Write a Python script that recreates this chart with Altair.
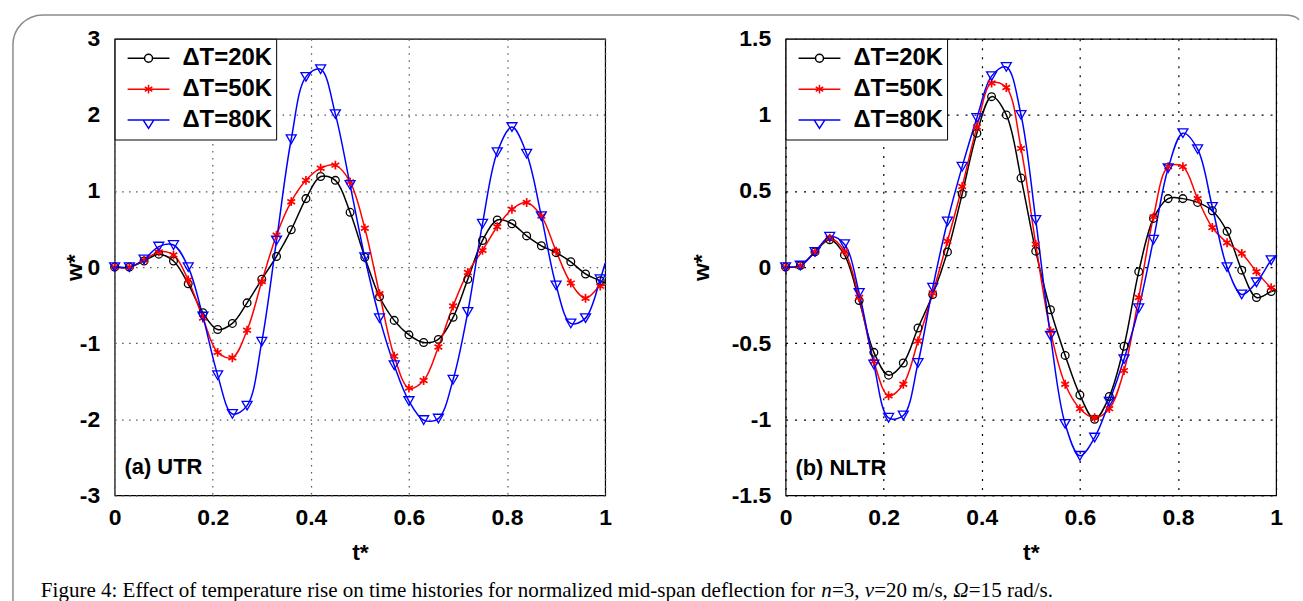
import altair as alt
import pandas as pd

# ---------------- data ----------------
T_MARK = [0.00, 0.03, 0.06, 0.09, 0.12, 0.15, 0.18, 0.21, 0.24, 0.27, 0.30, 0.33,
          0.36, 0.39, 0.42, 0.45, 0.48, 0.51, 0.54, 0.57, 0.60, 0.63, 0.66, 0.69,
          0.72, 0.75, 0.78, 0.81, 0.84, 0.87, 0.90, 0.93, 0.96, 0.99]
T_END = 1.0

SERIES = ["ΔT=20K", "ΔT=50K", "ΔT=80K"]
COLORS = ["#000000", "#ff0000", "#0000ff"]

# (a) UTR
UTR_20 = [0, 0, 0.08, 0.17, 0.08, -0.22, -0.60, -0.82, -0.74, -0.47, -0.16, 0.14,
          0.49, 0.90, 1.19, 1.14, 0.72, 0.13, -0.39, -0.70, -0.89, -0.99, -0.95, -0.66,
          -0.16, 0.35, 0.62, 0.57, 0.41, 0.28, 0.19, 0.07, -0.09, -0.18]
UTR_50 = [0, 0, 0.09, 0.20, 0.16, -0.17, -0.67, -1.12, -1.19, -0.83, -0.19, 0.42,
          0.86, 1.14, 1.30, 1.34, 1.12, 0.51, -0.35, -1.17, -1.59, -1.49, -1.05, -0.51,
          -0.07, 0.22, 0.53, 0.76, 0.85, 0.67, 0.21, -0.21, -0.41, -0.25]
UTR_80 = [0, 0, 0.10, 0.27, 0.29, 0.0, -0.65, -1.42, -1.93, -1.82, -0.98, 0.35,
          1.68, 2.50, 2.60, 2.01, 1.08, 0.13, -0.67, -1.29, -1.76, -2.01, -1.99, -1.48,
          -0.59, 0.57, 1.51, 1.84, 1.49, 0.67, -0.24, -0.74, -0.67, -0.16]
UTR_END = [-0.21, -0.24, 0.05]

# (b) NLTR
NLTR_20 = [0, 0.01, 0.10, 0.18, 0.08, -0.22, -0.56, -0.71, -0.63, -0.40, -0.18, 0.10,
           0.48, 0.88, 1.12, 1.00, 0.585, 0.105, -0.28, -0.58, -0.84, -1.00, -0.85, -0.52,
           -0.03, 0.32, 0.45, 0.45, 0.425, 0.37, 0.235, -0.02, -0.20, -0.16]
NLTR_50 = [0, 0.01, 0.10, 0.19, 0.105, -0.20, -0.62, -0.845, -0.77, -0.485, -0.17, 0.17,
           0.53, 0.92, 1.21, 1.18, 0.78, 0.15, -0.42, -0.77, -0.93, -0.99, -0.93, -0.68,
           -0.20, 0.33, 0.66, 0.66, 0.45, 0.26, 0.16, 0.09, -0.03, -0.135]
NLTR_80 = [0, 0.01, 0.10, 0.20, 0.15, -0.17, -0.64, -0.99, -0.975, -0.63, -0.135, 0.30,
           0.66, 0.98, 1.255, 1.315, 1.00, 0.31, -0.45, -1.03, -1.24, -1.12, -0.885, -0.605,
           -0.27, 0.18, 0.65, 0.88, 0.775, 0.395, 0.0, -0.18, -0.10, 0.045]
NLTR_END = [-0.15, -0.15, 0.075]

X_TICKS = [0, 0.2, 0.4, 0.6, 0.8, 1]
Y_TICKS_A = [-3, -2, -1, 0, 1, 2, 3]
Y_TICKS_B = [-1.5, -1, -0.5, 0, 0.5, 1, 1.5]
Y_DOM_A = [-3, 3]
Y_DOM_B = [-1.5, 1.5]

PANEL_LABELS = ["(a) UTR", "(b) NLTR"]
PANEL_LABEL_T = [0.02, 0.02]
PANEL_LABEL_W = [-2.63, -1.32]

# caption pieces (text, italic)
CAPTION_PARTS = [
    ("Figure 4: Effect of temperature rise on time histories for normalized "
     "mid-span deflection for ", False),
    ("n", True),
    ("=3, ", False),
    ("v", True),
    ("=20 m/s, ", False),
    ("Ω", True),
    ("=15 rad/s.", False),
]

# ---------------- styling ----------------
SANS = "Liberation Sans"
SERIF = "Liberation Serif"
CAP_SIZE = 21.1
# Times-compatible advance widths (1/1000 em) used to place the caption pieces
TIMES_W = {" ": 250, "a": 444, "c": 444, "d": 500, "e": 444, "f": 333, "g": 500,
           "h": 500, "i": 278, "l": 278, "m": 778, "n": 500, "o": 500, "p": 500,
           "r": 333, "s": 389, "t": 278, "u": 500, "z": 444, "F": 556, "E": 611,
           ":": 278, ",": 250, "-": 333, ".": 250, "/": 278, "=": 564, "v": 500}
TIMES_IT = {"n": 500, "v": 444, "Ω": 740}


def text_width(s, italic):
    tab = TIMES_IT if italic else TIMES_W
    return sum(tab.get(ch, 500) for ch in s) / 1000 * CAP_SIZE


ASTERISK = "M0,-1V1M-0.87,-0.5L0.87,0.5M-0.87,0.5L0.87,-0.5"
MARKERS = [("circle", 60, 1.3), (ASTERISK, 80, 1.7), ("triangle-down", 100, 1.3)]
LEGEND_PATHS = [
    "M-1,0H-0.19M0.19,0H1M0.19,0A0.19,0.19,0,1,1,-0.19,0A0.19,0.19,0,1,1,0.19,0",
    "M-1,0H1M0,-0.21V0.21M-0.18,-0.105L0.18,0.105M-0.18,0.105L0.18,-0.105",
    "M-1,0H1M-0.25,0L0,0.4L0.25,0",
]
FRAME_PATH = "M-102,565V6A30,30,0,0,1,-72,-24H1172Q1185,-24,1188,-19"


def long_df(vals_list, ends):
    rows = []
    for s, vals, end in zip(SERIES, vals_list, ends):
        for t, w in zip(T_MARK, vals):
            rows.append({"t": t, "w": w, "series": s, "marker": True})
        rows.append({"t": T_END, "w": end, "series": s, "marker": False})
    return pd.DataFrame(rows)


def panel(df, ydom, yticks, idx, grid_color, grid_dash, title_x, extra=()):
    x = alt.X("t:Q", scale=alt.Scale(domain=[0, 1], nice=False, zero=False),
              axis=alt.Axis(values=X_TICKS, title="t*", labelExpr="'' + datum.value",
                            grid=True, gridColor=grid_color, gridDash=grid_dash,
                            gridWidth=1.2, labelFlush=False, labelPadding=11,
                            titlePadding=12))
    y = alt.Y("w:Q", scale=alt.Scale(domain=ydom, nice=False, zero=False),
              axis=alt.Axis(values=yticks, title="w*", labelExpr="'' + datum.value",
                            grid=True, gridColor=grid_color, gridDash=grid_dash,
                            gridWidth=1.2, labelFlush=False, labelPadding=15,
                            titleX=title_x, titleY=229))
    base = alt.Chart(df)
    layers = []
    for s, col in zip(SERIES, COLORS):
        layers.append(
            base.transform_filter(alt.datum.series == s)
            .mark_line(interpolate="catmull-rom", strokeWidth=1.5, color=col)
            .encode(x=x, y=y)
        )
    for s, col, (shp, size, sw) in zip(SERIES, COLORS, MARKERS):
        layers.append(
            base.transform_filter((alt.datum.series == s) & alt.datum.marker)
            .mark_point(shape=shp, size=size, filled=False, strokeWidth=sw,
                        opacity=1, color=col)
            .encode(x=x, y=y)
        )
    leg = alt.Legend(title=None, orient="top-left", offset=0, padding=4,
                     strokeColor="black", fillColor="white",
                     labelFont=SANS, labelFontSize=24, labelFontWeight="bold",
                     labelColor="black", symbolSize=1764, symbolStrokeWidth=1.5,
                     symbolOffset=8, labelOffset=12, rowPadding=0, clipHeight=31,
                     labelExpr="datum.label + '  '")
    # legend carrier: the three first samples, drawn at a negligible size
    layers.append(
        base.transform_filter(alt.datum.t == 0)
        .mark_point(filled=False, size=1, strokeWidth=1.5, opacity=1)
        .encode(x=x, y=y,
                color=alt.Color("series:N", scale=alt.Scale(domain=SERIES, range=COLORS),
                                legend=leg),
                shape=alt.Shape("series:N",
                                scale=alt.Scale(domain=SERIES, range=LEGEND_PATHS),
                                legend=leg))
    )
    lab = pd.DataFrame({"t": [PANEL_LABEL_T[idx]], "w": [PANEL_LABEL_W[idx]],
                        "label": [PANEL_LABELS[idx]]})
    layers.append(
        alt.Chart(lab).mark_text(align="left", baseline="middle", font=SANS,
                                 fontSize=22, fontWeight="bold", color="black")
        .encode(x=x, y=y, text="label:N")
    )
    layers.extend(extra)
    return alt.layer(*layers).properties(width=492, height=458)


deco = pd.DataFrame({"k": [0]})
frame = alt.Chart(deco).mark_point(shape=FRAME_PATH, size=4, filled=False,
                                   color="#8c8c8c", strokeWidth=1.5, opacity=1).encode(
    x=alt.value(0), y=alt.value(0))

caption_layers = []
cx = -74
for txt, ital in CAPTION_PARTS:
    cdf = pd.DataFrame({"txt": [txt]})
    caption_layers.append(
        alt.Chart(cdf).mark_text(align="left", baseline="middle", font=SERIF,
                                 fontSize=CAP_SIZE, color="black",
                                 fontStyle="italic" if ital else "normal")
        .encode(x=alt.value(cx), y=alt.value(554), text="txt:N")
    )
    cx += text_width(txt, ital)

left = panel(long_df([UTR_20, UTR_50, UTR_80], UTR_END), Y_DOM_A, Y_TICKS_A, 0,
             "#555555", [1.5, 5.5], -28, extra=[frame] + caption_layers)
right = panel(long_df([NLTR_20, NLTR_50, NLTR_80], NLTR_END), Y_DOM_B, Y_TICKS_B, 1,
              "#000000", [2, 7], -72)

chart = (
    alt.hconcat(left, right, spacing=181, bounds="flush")
    .resolve_scale(x="independent", y="independent", color="independent",
                   shape="independent")
    .resolve_legend(color="independent", shape="independent")
    .properties(padding={"left": 9, "top": 10, "right": 0, "bottom": 0},
                background="white")
    .configure_view(stroke="black", strokeWidth=1.2)
    .configure_axis(labelFont=SANS, labelFontSize=23, labelFontWeight="bold",
                    labelColor="black", titleFont=SANS, titleFontSize=23,
                    titleFontWeight="bold", titleColor="black", ticks=False,
                    domain=False, labelOverlap=False)
)

chart.save("out.html", embed_options={"renderer": "svg", "actions": False})
